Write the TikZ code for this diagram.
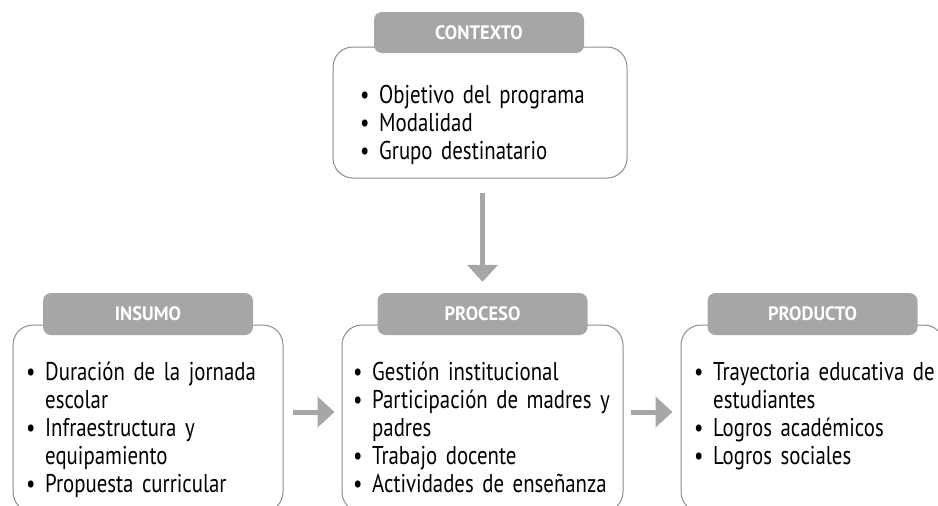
\documentclass[tikz,border=0pt]{standalone}
\usepackage{fontspec}
\setmainfont{PT Sans}[FakeStretch=0.81]
\newfontfamily\headfont{PT Sans}[FakeStretch=0.95]
\usepackage{xcolor}
\usetikzlibrary{arrows.meta}
\definecolor{hdrgray}{HTML}{A6A6A6}
\definecolor{boxline}{HTML}{8C8C8C}
\newcommand{\bitem}[1]{\par\hangindent=19pt\hangafter=1\noindent\makebox[19pt][l]{\textbullet}\strut #1}

\begin{document}
\begin{tikzpicture}[x=1pt, y=-1pt, >={Triangle[width=30pt,length=17pt]},
  caja/.style={draw=boxline, line width=1pt, rounded corners=20pt, minimum height=187pt},
  titulo/.style={fill=hdrgray, rounded corners=8pt, minimum width=210pt, minimum height=42pt, text=white, font=\headfont\bfseries\fontsize{19.5}{22}\selectfont},
  lista/.style={anchor=north west, inner sep=0pt, text width=300pt, align=left, font=\fontsize{25.7}{28}\selectfont},
  flecha/.style={->, draw=hdrgray, line width=5pt}]
  \clip (0,0) rectangle (938,506);
  % cajas
  \node[caja, minimum width=294pt, minimum height=131pt] (contexto) at (480,112.5) {};
  \node[caja, minimum width=270pt] (insumo) at (148,418.5) {};
  \node[caja, minimum width=281pt] (proceso) at (482.5,418.5) {};
  \node[caja, minimum width=263pt] (producto) at (812.5,418.5) {};
  % titulos
  \node[titulo, minimum height=41pt] (contextotit) at (479,32.5) {CONTEXTO};
  \node[titulo] (insumotit) at (148,314) {INSUMO};
  \node[titulo] (procesotit) at (482.5,314) {PROCESO};
  \node[titulo] (productotit) at (812.5,314) {PRODUCTO};
  % listas
  \node[lista] (contextotxt) at (360,75) {\bitem{Objetivo del programa}\bitem{Modalidad}\bitem{Grupo destinatario}};
  \node[lista] (insumotxt) at (26,352) {\bitem{Duración de la jornada\newline escolar}\bitem{Infraestructura y\newline equipamiento}\bitem{Propuesta curricular}};
  \node[lista] (procesotxt) at (353,352) {\bitem{Gestión institucional}\bitem{Participación de madres y\newline padres}\bitem{Trabajo docente}\bitem{Actividades de enseñanza}};
  \node[lista] (productotxt) at (694,352) {\bitem{Trayectoria educativa de\newline estudiantes}\bitem{Logros académicos}\bitem{Logros sociales}};
  % flechas
  \draw[flecha, shorten <=14pt, shorten >=11pt] (procesotit.north |- contexto.south) -- (procesotit.north);
  \draw[flecha, shorten <=9pt, shorten >=7pt] ([yshift=6.5pt]insumo.east) -- ([yshift=6.5pt]proceso.west);
  \draw[flecha, shorten <=7pt, shorten >=8pt] ([yshift=6.5pt]proceso.east) -- ([yshift=6.5pt]producto.west);
\end{tikzpicture}
\end{document}
